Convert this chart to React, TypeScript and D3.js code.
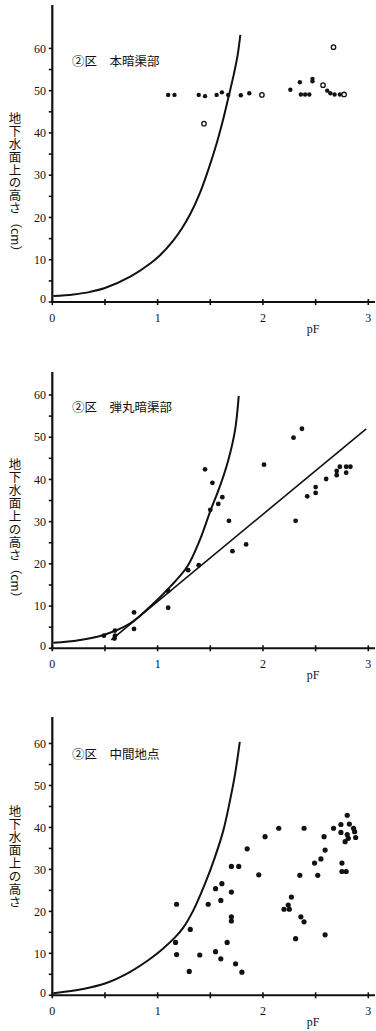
import React from "react";
import * as d3 from "d3";

// axis ticks
const xTicks = [0, 1, 2, 3];
const xMinorTicks = [0.5, 1.5, 2.5];
const yTicks = [0, 10, 20, 30, 40, 50, 60];
const yMinorTicks = [5, 15, 25, 35, 45, 55];

const panelTitles = ["②区　本暗渠部", "②区　弾丸暗渠部", "②区　中間地点"];
const yLabelText = "地下水面上の高さ";
const yLabelUnit = ["（cm）", "（cm）", ""];

// pF curve  [pF, height cm]
const curve1 = [
  [0.01, 1.4], [0.2, 1.8], [0.36, 2.4], [0.5, 3.3], [0.74, 6.0], [0.93, 9.1], [1.02, 11.0],
  [1.15, 14.6], [1.23, 17.4], [1.31, 20.8], [1.4, 25.7], [1.48, 31.2], [1.56, 37.5],
  [1.62, 43], [1.67, 48.2], [1.72, 53.5], [1.76, 58.5], [1.785, 63.2],
];
const curve2 = [
  [0.01, 1.3], [0.25, 1.9], [0.48, 3.1], [0.74, 5.9], [0.93, 9.9], [1.12, 14.6],
  [1.28, 19.3], [1.4, 25.6], [1.5, 32.5], [1.59, 38.3], [1.67, 44.5], [1.735, 51.7], [1.77, 59.8],
];
const curve3 = [
  [0.01, 0.5], [0.29, 1.5], [0.5, 2.8], [0.74, 5.6], [0.93, 8.7], [1.05, 11.1], [1.165, 13.8],
  [1.24, 16.0], [1.34, 20.3], [1.45, 26.6], [1.545, 33], [1.624, 39.3], [1.687, 46.4],
  [1.735, 52.7], [1.78, 60.4],
];

// straight fitted line in panel 2
const line2 = [[0.56, 2.0], [2.98, 52]];

// observations
const obs1Filled = [
  [1.1, 49], [1.16, 49], [1.39, 49], [1.45, 48.7], [1.56, 49], [1.61, 49.6], [1.67, 49],
  [1.79, 48.9], [1.87, 49.4], [2.26, 50.2], [2.35, 52], [2.36, 49.1], [2.4, 49.1],
  [2.44, 49.1], [2.47, 52.8], [2.47, 52.2], [2.61, 50], [2.64, 49.4], [2.68, 49.1], [2.73, 49.1],
];
const obs1Open = [[1.44, 42.2], [1.99, 49], [2.57, 51.3], [2.67, 60.3], [2.77, 49.1]];

const obs2 = [
  [0.49, 3.0], [0.595, 4.2], [0.595, 3.0], [0.59, 2.3], [0.776, 8.5], [0.776, 4.6], [1.1, 13.6],
  [1.1, 9.6], [1.29, 18.5], [1.39, 19.7], [1.45, 42.4], [1.52, 39.2], [1.5, 32.8],
  [1.576, 34.2], [1.614, 35.8], [1.677, 30.2], [1.71, 23], [1.84, 24.6], [2.01, 43.5],
  [2.29, 49.9], [2.37, 52], [2.31, 30.2], [2.42, 36], [2.5, 38.2], [2.5, 36.8], [2.6, 40.1],
  [2.7, 41], [2.7, 42], [2.73, 43], [2.79, 41.6], [2.79, 43], [2.83, 43],
];

const obs3 = [
  [1.18, 21.7], [1.17, 12.6], [1.18, 9.7], [1.31, 15.7], [1.3, 5.7], [1.4, 9.6], [1.48, 21.7],
  [1.55, 25.4], [1.55, 10.4], [1.6, 8.7], [1.61, 26.6], [1.6, 22.6], [1.66, 12.6], [1.7, 30.7],
  [1.7, 24.6], [1.7, 18.7], [1.7, 17.7], [1.74, 7.5], [1.77, 30.7], [1.8, 5.5], [1.85, 34.9],
  [1.96, 28.7], [2.02, 37.8], [2.15, 39.8], [2.2, 20.5], [2.24, 21.5], [2.25, 20.5],
  [2.27, 23.4], [2.35, 28.6], [2.36, 18.7], [2.39, 17.5], [2.31, 13.5], [2.39, 39.8],
  [2.49, 31.5], [2.52, 28.6], [2.55, 32.5], [2.58, 37.8], [2.59, 34.6], [2.59, 14.4],
  [2.67, 39.8], [2.74, 40.7], [2.74, 38.8], [2.75, 31.5], [2.75, 29.5], [2.79, 29.5],
  [2.8, 42.9], [2.82, 40.8], [2.78, 36.6], [2.81, 37.4], [2.8, 38.3], [2.86, 39.8],
  [2.87, 39], [2.88, 37.6],
];

const panels = [
  { y0: 302, y60: 48.4, top: 5, curve: curve1, line: null, filled: obs1Filled, open: obs1Open, r: 2.2 },
  { y0: 648.3, y60: 395, top: 372, curve: curve2, line: line2, filled: obs2, open: [], r: 2.4 },
  { y0: 995.3, y60: 743.5, top: 717, curve: curve3, line: null, filled: obs3, open: [], r: 2.6 },
];

const serif = "'Liberation Serif', 'DejaVu Serif', serif";
const cjk = "'Noto Sans CJK JP', sans-serif";

const xScale = d3.scaleLinear().domain([0, 3]).range([52.3, 368.3]);

function Panel({ i }: { i: number }) {
  const p = panels[i];
  const y = d3.scaleLinear().domain([0, 60]).range([p.y0, p.y60]);
  const curveGen = d3
    .line<number[]>()
    .x((d) => xScale(d[0]))
    .y((d) => y(d[1]))
    .curve(d3.curveCatmullRom.alpha(0.5));
  const straight = d3
    .line<number[]>()
    .x((d) => xScale(d[0]))
    .y((d) => y(d[1]));
  const ax = xScale(0);
  const labelTop = p.y0 - 190;
  const pitch = 12.9;
  const chars = Array.from(yLabelText);
  // one text element, one position per character (stacked vertically)
  const xs = chars.map(() => 15).join(" ");
  const ys = chars.map((_, k) => (labelTop + pitch * k + pitch / 2 + 4.5).toFixed(1)).join(" ");

  return (
    <g>
      {/* axes */}
      <line x1={ax} x2={ax} y1={p.top} y2={p.y0 + 1} stroke="#111" strokeWidth={2.2} />
      <line x1={ax - 1} x2={375} y1={p.y0} y2={p.y0} stroke="#111" strokeWidth={2} />
      {yTicks.concat(yMinorTicks).map((t) => (
        <line key={"yt" + t} x1={ax - 3.5} x2={ax} y1={y(t)} y2={y(t)} stroke="#111" strokeWidth={1.6} />
      ))}
      {xTicks.concat(xMinorTicks).map((t) => (
        <line key={"xt" + t} x1={xScale(t)} x2={xScale(t)} y1={p.y0 - 3} y2={p.y0 + 3} stroke="#111" strokeWidth={1.6} />
      ))}
      {yTicks.map((t) => (
        <text key={"yl" + t} x={46} y={y(t) - (t === 0 ? 3 : 0)} dy="0.35em" textAnchor="end"
          fontFamily={serif} fontSize={12} fill="#111">{t}</text>
      ))}
      {xTicks.map((t) => (
        <text key={"xl" + t} x={xScale(t)} y={p.y0 + 20} textAnchor="middle"
          fontFamily={serif} fontSize={12} fill="#111">{t}</text>
      ))}
      <text x={313} y={p.y0 + 31} textAnchor="middle" fontFamily={serif} fontSize={12} fill="#111">pF</text>

      {/* title */}
      <text x={72} y={p.y0 - 236} fontFamily={cjk} fontSize={12.5} fill="#111">{panelTitles[i]}</text>

      {/* vertical y label */}
      <text x={xs} y={ys} textAnchor="middle" fontFamily={cjk} fontSize={12.5} fill="#111">{yLabelText}</text>
      {yLabelUnit[i] && (
        <text transform={`translate(15,${labelTop + pitch * chars.length + 1}) rotate(90)`} dy="0.36em"
          fontFamily={cjk} fontSize={12} fill="#111">{yLabelUnit[i]}</text>
      )}

      {/* curve */}
      <path d={curveGen(p.curve) || ""} fill="none" stroke="#111" strokeWidth={2} />
      {p.line && <path d={straight(p.line) || ""} fill="none" stroke="#111" strokeWidth={1.6} />}

      {/* observations */}
      {p.filled.map((d, k) => (
        <circle key={"f" + k} cx={xScale(d[0])} cy={y(d[1])} r={p.r} fill="#111" />
      ))}
      {p.open.map((d, k) => (
        <circle key={"o" + k} cx={xScale(d[0])} cy={y(d[1])} r={p.r} fill="#fff" stroke="#111" strokeWidth={1.3} />
      ))}
    </g>
  );
}

export default function App() {
  return (
    <svg width={376} height={1031} style={{ position: "absolute", left: 0, top: 0, background: "#fff" }}>
      {panels.map((_, i) => (
        <Panel key={i} i={i} />
      ))}
    </svg>
  );
}
